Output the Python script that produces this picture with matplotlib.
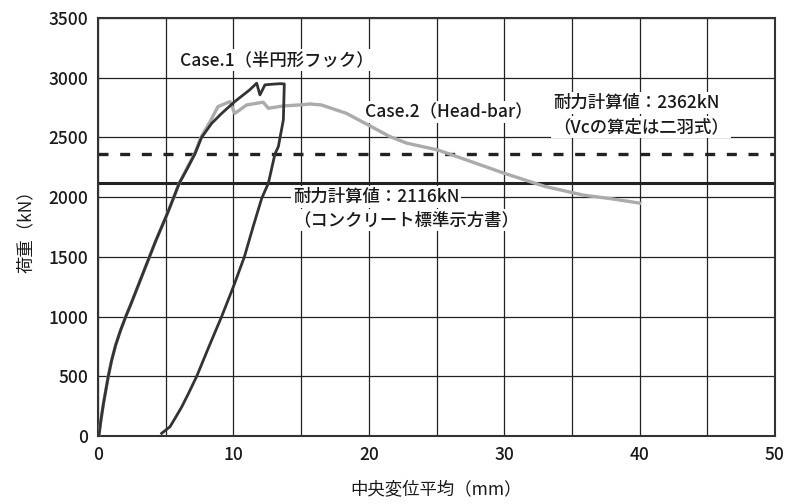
import matplotlib
matplotlib.use('Agg')
import matplotlib.pyplot as plt
import numpy as np

plt.rcParams['font.family'] = ['Noto Sans CJK JP', 'DejaVu Sans']
plt.rcParams['font.weight'] = 'medium'

# Case.1 (half-circle hook): loading then unloading branch
case1_x = [0.0, 0.07, 0.2, 0.4, 0.76, 1.0, 1.3, 1.65, 2.05, 2.45, 2.9, 3.35, 3.8,
           4.25, 4.7, 5.15, 5.6, 6.0, 6.6, 7.16, 7.65,
           8.39, 9.13, 10.1, 11.2, 11.72, 11.96, 12.33, 12.8, 13.44, 13.76,
           13.69, 13.32, 13.07, 12.58, 12.09, 11.45, 10.81, 10.0, 9.13, 8.2, 7.29,
           6.7, 6.18, 5.7, 5.32, 4.7]
case1_y = [0, 5, 120, 270, 500, 630, 760, 880, 1000, 1110, 1240, 1370, 1500,
           1630, 1750, 1870, 2000, 2116, 2240, 2362, 2500,
           2617, 2701, 2800, 2898, 2954, 2856, 2940, 2945, 2950, 2948,
           2647, 2423, 2362, 2116, 1990, 1750, 1500, 1250, 1000, 750, 500,
           360, 243, 150, 78, 22]

# Case.2 (Head-bar)
case2_x = [0.0, 0.07, 0.2, 0.4, 0.76, 1.0, 1.3, 1.65, 2.05, 2.45, 2.9, 3.35, 3.8,
           4.25, 4.7, 5.15, 5.6, 6.0, 6.6, 7.16, 7.6,
           8.27, 8.86, 9.75, 10.1, 10.98, 12.2, 12.58, 13.69, 14.9, 15.66, 16.5,
           18.36, 19.96, 21.56, 22.8, 25.1, 27.5, 30.0, 33.0, 35.8, 38.0, 40.0]
case2_y = [0, 5, 120, 270, 500, 630, 760, 880, 1000, 1110, 1240, 1370, 1500,
           1630, 1750, 1870, 2000, 2116, 2250, 2370, 2500,
           2630, 2758, 2800, 2701, 2772, 2795, 2744, 2764, 2772, 2780, 2772,
           2701, 2604, 2507, 2452, 2395, 2300, 2200, 2090, 2018, 1985, 1950]

capacity_std = 2116   # コンクリート標準示方書
capacity_niwa = 2362  # 二羽式

xticks = [0, 10, 20, 30, 40, 50]
yticks = [0, 500, 1000, 1500, 2000, 2500, 3000, 3500]

fig = plt.figure(figsize=(7.87, 5.04), dpi=100)
ax = fig.add_axes([98 / 787, 1 - 436 / 504, 677 / 787, 418 / 504])

ax.set_xlim(0, 50)
ax.set_ylim(0, 3500)
ax.set_xticks(xticks)
ax.set_yticks(yticks)
ax.set_xticks(np.arange(0, 51, 5), minor=True)
ax.grid(True, which='both', axis='x', color='#222222', lw=0.9, zorder=0)
ax.grid(True, which='major', axis='y', color='#222222', lw=0.9, zorder=0)
ax.set_axisbelow(True)
ax.tick_params(which='both', length=0, labelsize=12.5, pad=7, colors='#1a1a1a')
for s in ax.spines.values():
    s.set_color('#333333')
    s.set_linewidth(1.5)

ax.axhline(capacity_std, color='#222222', lw=2.2, zorder=2)
ax.axhline(capacity_niwa, color='#222222', lw=2.4, ls=(0, (3, 3.5)), zorder=2)

ax.plot(case2_x, case2_y, color='#ababab', lw=2.4, zorder=4)
ax.plot(case1_x, case1_y, color='#333333', lw=2.0, zorder=5)

box = dict(facecolor='white', edgecolor='none', pad=1.5)
tk = dict(fontsize=12.5, color='#1a1a1a', zorder=3, bbox=box)
ax.text(13.2, 3150, 'Case.1（半円形フック）', ha='center', va='center', **tk)
ax.text(25.9, 2713, 'Case.2（Head-bar）', ha='center', va='center', **tk)
ax.text(33.6, 2789, '耐力計算値：2362kN', ha='left', va='center', **tk)
ax.text(33.6, 2588, '（Vcの算定は二羽式）', ha='left', va='center', **tk)
ax.text(14.4, 2000, '耐力計算値：2116kN', ha='left', va='center', **tk)
ax.text(14.4, 1809, '（コンクリート標準示方書）', ha='left', va='center', **tk)

ax.set_xlabel('中央変位平均（mm）', fontsize=12.5, color='#1a1a1a', labelpad=12)
ax.set_ylabel('荷重（kN）', fontsize=12.5, color='#1a1a1a', labelpad=10)

fig.savefig('out.png', dpi=100)
